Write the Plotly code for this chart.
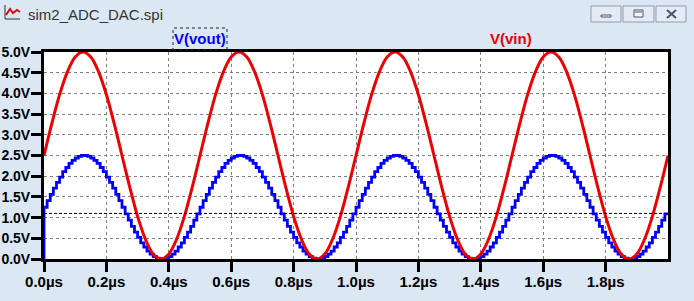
import plotly.graph_objects as go

# ---------------- data ----------------
X_TICKS = [0.0, 0.2, 0.4, 0.6, 0.8, 1.0, 1.2, 1.4, 1.6, 1.8]
X_TICK_LABELS = ["0.0µs", "0.2µs", "0.4µs", "0.6µs", "0.8µs", "1.0µs", "1.2µs", "1.4µs", "1.6µs", "1.8µs"]
Y_TICKS = [0.0, 0.5, 1.0, 1.5, 2.0, 2.5, 3.0, 3.5, 4.0, 4.5, 5.0]
Y_TICK_LABELS = ["0.0V", "0.5V", "1.0V", "1.5V", "2.0V", "2.5V", "3.0V", "3.5V", "4.0V", "4.5V", "5.0V"]

t_vin = [round(0.025 * i, 4) for i in range(81)]
v_vin = [
    2.5, 3.27, 3.97, 4.52, 4.88, 5.0, 4.88, 4.52, 3.97, 3.27,
    2.5, 1.73, 1.03, 0.48, 0.12, 0.0, 0.12, 0.48, 1.03, 1.73,
    2.5, 3.27, 3.97, 4.52, 4.88, 5.0, 4.88, 4.52, 3.97, 3.27,
    2.5, 1.73, 1.03, 0.48, 0.12, 0.0, 0.12, 0.48, 1.03, 1.73,
    2.5, 3.27, 3.97, 4.52, 4.88, 5.0, 4.88, 4.52, 3.97, 3.27,
    2.5, 1.73, 1.03, 0.48, 0.12, 0.0, 0.12, 0.48, 1.03, 1.73,
    2.5, 3.27, 3.97, 4.52, 4.88, 5.0, 4.88, 4.52, 3.97, 3.27,
    2.5, 1.73, 1.03, 0.48, 0.12, 0.0, 0.12, 0.48, 1.03, 1.73,
    2.5,
]

# V(vout) staircase, one level every 0.01 µs
t_vout = [0.0] + [round(0.01 * k, 4) for k in range(200)] + [2.0]
v_vout = [0.0,
    1.25, 1.41, 1.56, 1.71, 1.85, 1.98, 2.11, 2.21, 2.31, 2.38, 2.44, 2.48, 2.50, 2.50, 2.48, 2.44, 2.38, 2.31, 2.21, 2.11, 1.98, 1.85, 1.71, 1.56, 1.41,
    1.25, 1.09, 0.94, 0.79, 0.65, 0.52, 0.39, 0.29, 0.19, 0.12, 0.06, 0.02, 0.00, 0.00, 0.02, 0.06, 0.12, 0.19, 0.29, 0.39, 0.52, 0.65, 0.79, 0.94, 1.09,
    1.25, 1.41, 1.56, 1.71, 1.85, 1.98, 2.11, 2.21, 2.31, 2.38, 2.44, 2.48, 2.50, 2.50, 2.48, 2.44, 2.38, 2.31, 2.21, 2.11, 1.98, 1.85, 1.71, 1.56, 1.41,
    1.25, 1.09, 0.94, 0.79, 0.65, 0.52, 0.39, 0.29, 0.19, 0.12, 0.06, 0.02, 0.00, 0.00, 0.02, 0.06, 0.12, 0.19, 0.29, 0.39, 0.52, 0.65, 0.79, 0.94, 1.09,
    1.25, 1.41, 1.56, 1.71, 1.85, 1.98, 2.11, 2.21, 2.31, 2.38, 2.44, 2.48, 2.50, 2.50, 2.48, 2.44, 2.38, 2.31, 2.21, 2.11, 1.98, 1.85, 1.71, 1.56, 1.41,
    1.25, 1.09, 0.94, 0.79, 0.65, 0.52, 0.39, 0.29, 0.19, 0.12, 0.06, 0.02, 0.00, 0.00, 0.02, 0.06, 0.12, 0.19, 0.29, 0.39, 0.52, 0.65, 0.79, 0.94, 1.09,
    1.25, 1.41, 1.56, 1.71, 1.85, 1.98, 2.11, 2.21, 2.31, 2.38, 2.44, 2.48, 2.50, 2.50, 2.48, 2.44, 2.38, 2.31, 2.21, 2.11, 1.98, 1.85, 1.71, 1.56, 1.41,
    1.25, 1.09, 0.94, 0.79, 0.65, 0.52, 0.39, 0.29, 0.19, 0.12, 0.06, 0.02, 0.00, 0.00, 0.02, 0.06, 0.12, 0.19, 0.29, 0.39, 0.52, 0.65, 0.79, 0.94, 1.09,
    1.09]

CURSOR_V = 1.1
WINDOW_TITLE = "sim2_ADC_DAC.spi"

# ---------------- layout helpers (pixel -> paper) ----------------
W, H = 694, 301
L, R, T, B = 44, 668, 52, 259


def px(x):
    return (x - L) / (R - L)


def py(y):
    return (B - y) / (B - T)


fig = go.Figure()
fig.add_trace(go.Scatter(x=t_vout, y=v_vout, mode="lines", line=dict(color="#0000ff", width=2.8, shape="hv"),
                         name="V(vout)", hoverinfo="skip"))
fig.add_trace(go.Scatter(x=t_vin, y=v_vin, mode="lines", line=dict(color="#ee0000", width=3, shape="spline", smoothing=1.0),
                         name="V(vin)", hoverinfo="skip"))

fig.add_hline(y=CURSOR_V, line=dict(color="black", width=1, dash="3px,2px"))

x_font = dict(family="Liberation Sans, Arial", size=15, color="black", weight="bold")
y_font = dict(family="Liberation Sans, Arial", size=14, color="black", weight="bold")

fig.update_xaxes(range=[0, 2.0], tickvals=X_TICKS, ticktext=X_TICK_LABELS, showgrid=True,
                 gridcolor="#808080", griddash="3px,3px", gridwidth=1, zeroline=False,
                 showline=True, linecolor="black", linewidth=3, mirror=True, automargin=False,
                 ticks="outside", ticklen=10, tickwidth=3, tickcolor="black", tickfont=x_font,
                 ticklabelstandoff=-3)
fig.update_yaxes(range=[0, 5.0], tickvals=Y_TICKS, ticktext=Y_TICK_LABELS, showgrid=True,
                 gridcolor="#808080", griddash="3px,3px", gridwidth=1, zeroline=False,
                 showline=True, linecolor="black", linewidth=3, mirror=True, automargin=False,
                 ticks="outside", ticklen=10, tickwidth=3, tickcolor="black", tickfont=y_font,
                 ticklabelstandoff=-2)

shapes = []
# window interior
shapes.append(dict(type="rect", xref="paper", yref="paper", x0=px(3), x1=px(688), y0=py(293), y1=py(27),
                   fillcolor="white", line=dict(color="#a0a8b4", width=1), layer="below"))
# window buttons
for bx0, bx1 in [(591, 621), (623, 654), (656, 686)]:
    shapes.append(dict(type="rect", xref="paper", yref="paper", x0=px(bx0), x1=px(bx1), y0=py(22), y1=py(6),
                       fillcolor="#e4ebf4", line=dict(color="#8d9db4", width=1), layer="below"))
# minimize symbol
shapes.append(dict(type="rect", xref="paper", yref="paper", x0=px(601), x1=px(611), y0=py(17), y1=py(15),
                   fillcolor="#f4f6f9", line=dict(color="#4a5568", width=1)))
# restore symbol
shapes.append(dict(type="rect", xref="paper", yref="paper", x0=px(634), x1=px(643), y0=py(17), y1=py(10),
                   fillcolor="#f4f6f9", line=dict(color="#4a5568", width=1)))
shapes.append(dict(type="line", xref="paper", yref="paper", x0=px(635), x1=px(642), y0=py(12), y1=py(12),
                   line=dict(color="#4a5568", width=1)))
# close symbol
shapes.append(dict(type="line", xref="paper", yref="paper", x0=px(667), x1=px(676), y0=py(10), y1=py(18),
                   line=dict(color="#4a5568", width=2)))
shapes.append(dict(type="line", xref="paper", yref="paper", x0=px(667), x1=px(676), y0=py(18), y1=py(10),
                   line=dict(color="#4a5568", width=2)))
# icon
shapes.append(dict(type="path", xref="paper", yref="paper",
                   path=f"M {px(5)} {py(5)} L {px(5)} {py(19)} L {px(20)} {py(19)}",
                   line=dict(color="#333333", width=1)))
shapes.append(dict(type="path", xref="paper", yref="paper",
                   path=f"M {px(6)} {py(15)} L {px(10)} {py(9)} L {px(13)} {py(13)} L {px(17)} {py(10)} L {px(20)} {py(12)}",
                   line=dict(color="#d01010", width=2)))
# legend box around V(vout)
shapes.append(dict(type="rect", xref="paper", yref="paper", x0=px(173), x1=px(227), y0=py(50), y1=py(28),
                   line=dict(color="#222222", width=1, dash="dot")))

annotations = [
    dict(text=WINDOW_TITLE, xref="paper", yref="paper", x=px(26), y=py(14), xanchor="left", yanchor="middle",
         showarrow=False, font=dict(family="Liberation Sans, Arial", size=15, color="#333333")),
    dict(text="V(vout)", xref="paper", yref="paper", x=px(200), y=py(39), xanchor="center", yanchor="middle",
         showarrow=False, font=dict(family="Liberation Sans, Arial", size=15, color="#0000ff", weight="bold")),
    dict(text="V(vin)", xref="paper", yref="paper", x=px(511), y=py(39), xanchor="center", yanchor="middle",
         showarrow=False, font=dict(family="Liberation Sans, Arial", size=15, color="#ee0000", weight="bold")),
]

fig.update_layout(width=W, height=H, margin=dict(l=L, r=W - R, t=T, b=H - B),
                  paper_bgcolor="#dce7f4", plot_bgcolor="white", showlegend=False,
                  shapes=shapes, annotations=annotations)

fig.write_html("out.html", config={"displayModeBar": False})
